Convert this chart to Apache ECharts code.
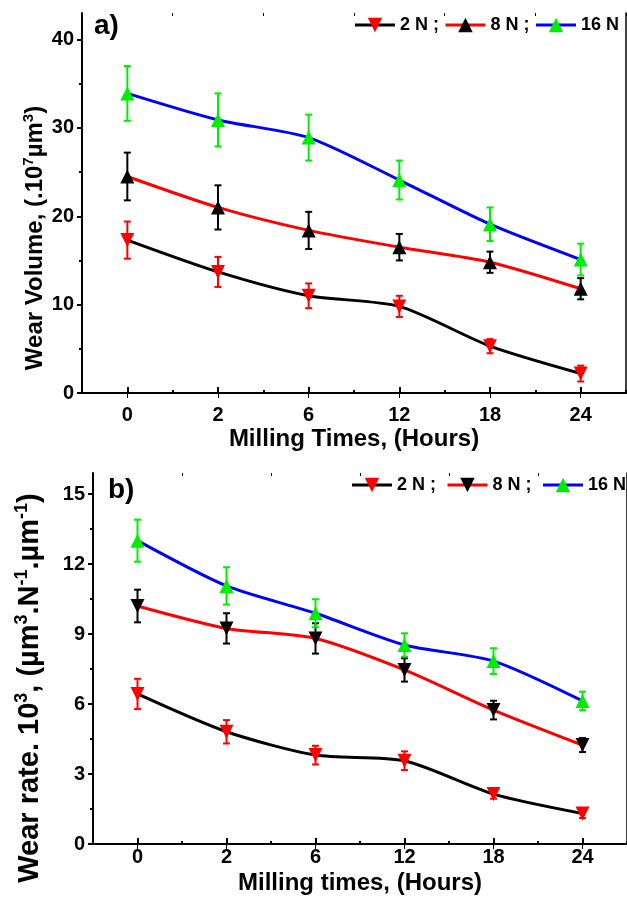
<!DOCTYPE html>
<html>
<head>
<meta charset="utf-8">
<script src="https://cdn.jsdelivr.net/npm/echarts@6/dist/echarts.min.js"></script>
<style>
html,body{margin:0;padding:0;background:#fff;}
#main{width:627px;height:897px;}
</style>
</head>
<body>
<div id="main"></div>
<script>
// ---- data ----
const categories = ['0', '2', '6', '12', '18', '24'];

// panel a: wear volume (x10^7 um^3)
const volume2N = [17.3, 13.7, 11.0, 9.8, 5.3, 2.2];
const volume2NErr = [2.1, 1.7, 1.4, 1.2, 0.8, 0.9];
const volume8N = [24.5, 21.0, 18.4, 16.5, 14.8, 11.8];
const volume8NErr = [2.7, 2.5, 2.1, 1.5, 1.2, 1.2];
const volume16N = [33.9, 30.9, 28.9, 24.1, 19.1, 15.1];
const volume16NErr = [3.1, 3.0, 2.6, 2.2, 1.9, 1.8];

// panel b: wear rate x10^3
const rate2N = [6.43, 4.81, 3.81, 3.57, 2.14, 1.31];
const rate2NErr = [0.65, 0.5, 0.4, 0.4, 0.2, 0.2];
const rate8N = [10.2, 9.24, 8.81, 7.46, 5.74, 4.24];
const rate8NErr = [0.7, 0.65, 0.65, 0.5, 0.4, 0.3];
const rate16N = [13.0, 11.06, 9.89, 8.53, 7.84, 6.13];
const rate16NErr = [0.9, 0.8, 0.6, 0.5, 0.55, 0.4];

const yTicksA = [0, 10, 20, 30, 40];
const yMinorA = [5, 15, 25, 35];
const yTicksB = [0, 3, 6, 9, 12, 15];
const yMinorB = [1.5, 4.5, 7.5, 10.5, 13.5];

const legendNamesA = ['2 N ;', '8 N ;', '16 N'];
const legendNamesB = ['2 N ; ', '8 N ; ', '16 N '];

// ---- helpers ----
const FONT = 'Liberation Sans, Arial, sans-serif';
const labelStyle = {color: '#000', fontWeight: 'bold', fontSize: 20, fontFamily: FONT};

function errData(vals, errs) {
  return vals.map((v, i) => [i, v - errs[i], v + errs[i]]);
}

function errSeries(vals, errs, color, xi, yi) {
  return {
    type: 'custom',
    xAxisIndex: xi, yAxisIndex: yi,
    data: errData(vals, errs),
    z: 1,
    silent: true,
    renderItem: function (params, api) {
      const x = api.value(0);
      const top = api.coord([x, api.value(2)]);
      const bot = api.coord([x, api.value(1)]);
      const w = 3.5;
      const st = {stroke: color, lineWidth: 2};
      return {
        type: 'group',
        children: [
          {type: 'line', shape: {x1: top[0], y1: top[1], x2: bot[0], y2: bot[1]}, style: st},
          {type: 'line', shape: {x1: top[0] - w, y1: top[1], x2: top[0] + w, y2: top[1]}, style: st},
          {type: 'line', shape: {x1: bot[0] - w, y1: bot[1], x2: bot[0] + w, y2: bot[1]}, style: st}
        ]
      };
    }
  };
}

function lineSeries(name, vals, lineColor, markColor, down, xi, yi) {
  return {
    type: 'line',
    name: name,
    xAxisIndex: xi, yAxisIndex: yi,
    data: vals,
    smooth: 0.25,
    symbol: 'triangle',
    symbolRotate: down ? 180 : 0,
    symbolSize: 14,
    showAllSymbol: true,
    z: 3,
    lineStyle: {color: lineColor, width: 3},
    itemStyle: {color: markColor, opacity: 1},
    emphasis: {disabled: true}
  };
}

function xAxes(gridIndex, labelMargin, nameGap, name) {
  return [
    {
      type: 'category', gridIndex: gridIndex, data: categories, position: 'bottom', boundaryGap: true,
      axisLine: {show: true, lineStyle: {color: '#000', width: 2}},
      axisTick: {show: true, alignWithLabel: true, inside: true, length: 6, lineStyle: {color: '#000', width: 2}},
      axisLabel: Object.assign({margin: labelMargin, interval: 0}, labelStyle),
      name: name, nameLocation: 'middle', nameGap: nameGap,
      nameTextStyle: {color: '#000', fontWeight: 'bold', fontSize: 24, fontFamily: FONT}
    },
    {
      type: 'category', gridIndex: gridIndex, data: categories, position: 'bottom', boundaryGap: true,
      axisLine: {show: false},
      axisTick: {show: true, inside: true, length: 3, interval: 0, lineStyle: {color: '#000', width: 2}},
      axisLabel: {show: false}
    },
    {
      type: 'category', gridIndex: gridIndex, data: categories, position: 'top', boundaryGap: true,
      axisLine: {show: true, lineStyle: {color: '#000', width: 1.5}},
      axisTick: {show: true, alignWithLabel: true, inside: true, length: 5, lineStyle: {color: '#000', width: 1}},
      axisLabel: {show: false}
    },
    {
      type: 'category', gridIndex: gridIndex, data: categories, position: 'top', boundaryGap: true,
      axisLine: {show: false},
      axisTick: {show: true, inside: true, length: 3, interval: 0, lineStyle: {color: '#000', width: 1}},
      axisLabel: {show: false}
    }
  ];
}

function yAxes(gridIndex, max, majors, minors) {
  return [
    {
      type: 'value', gridIndex: gridIndex, position: 'left', min: 0, max: max,
      splitLine: {show: false},
      axisLine: {show: true, lineStyle: {color: '#000', width: 2}},
      axisTick: {show: true, inside: false, length: 5, customValues: majors, lineStyle: {color: '#000', width: 2}},
      axisLabel: Object.assign({margin: 8, customValues: majors}, labelStyle)
    },
    {
      type: 'value', gridIndex: gridIndex, position: 'left', min: 0, max: max,
      splitLine: {show: false},
      axisLine: {show: false},
      axisTick: {show: true, inside: false, length: 3, customValues: minors, lineStyle: {color: '#000', width: 2}},
      axisLabel: {show: false}
    },
    {
      type: 'value', gridIndex: gridIndex, position: 'right', min: 0, max: max,
      splitLine: {show: false},
      axisLine: {show: true, lineStyle: {color: '#000', width: 1.5}},
      axisTick: {show: false},
      axisLabel: {show: false}
    }
  ];
}

function supRich(size) {
  return {sup: {fontSize: Math.round(size * 0.62), fontWeight: 'bold', fontFamily: FONT, fill: '#000',
                padding: [0, 0, Math.round(size * 0.5), 0]}};
}

const legendText = {color: '#000', fontWeight: 'bold', fontSize: 18, fontFamily: FONT};

const option = {
  backgroundColor: '#fff',
  animation: false,
  grid: [
    {left: 82, right: 1, top: 13, bottom: 504, containLabel: false},
    {left: 93, right: -10, top: 473, bottom: 53, containLabel: false}
  ],
  legend: [
    {data: legendNamesA, right: 8, top: 16, itemWidth: 40, itemHeight: 18, itemGap: 5,
     textStyle: legendText, selectedMode: false, padding: 0, lineStyle: {width: 3}},
    {data: legendNamesB, right: -4, top: 476, itemWidth: 40, itemHeight: 18, itemGap: 5,
     textStyle: legendText, selectedMode: false, padding: 0, lineStyle: {width: 3}}
  ],
  xAxis: [].concat(
    xAxes(0, 12, 34, 'Milling Times, (Hours)'),
    xAxes(1, 3, 27, 'Milling times, (Hours)')
  ),
  yAxis: [].concat(
    yAxes(0, 43, yTicksA, yMinorA),
    yAxes(1, 15.9, yTicksB, yMinorB)
  ),
  graphic: [
    {type: 'text', left: 94, top: 12, style: {text: 'a)', font: 'bold 28px ' + FONT, fill: '#000'}},
    {type: 'text', left: 108, top: 476, style: {text: 'b)', font: 'bold 28px ' + FONT, fill: '#000'}},
    {type: 'text', x: 35, y: 238, rotation: Math.PI / 2,
     style: {text: 'Wear Volume, (.10{sup|7}µm{sup|3})', fontSize: 24, fontWeight: 'bold', fontFamily: FONT,
             fill: '#000', align: 'center', verticalAlign: 'middle', rich: supRich(24)}},
    {type: 'text', x: 30, y: 688, rotation: Math.PI / 2,
     style: {text: 'Wear rate. 10{sup|3}, (µm{sup|3}.N{sup|-1}.µm{sup|-1})', fontSize: 29, fontWeight: 'bold', fontFamily: FONT,
             fill: '#000', align: 'center', verticalAlign: 'middle', rich: supRich(29)}}
  ],
  series: [
    errSeries(volume2N, volume2NErr, '#ff0000', 0, 0),
    errSeries(volume8N, volume8NErr, '#000000', 0, 0),
    errSeries(volume16N, volume16NErr, '#00ee00', 0, 0),
    lineSeries(legendNamesA[0], volume2N, '#000000', '#ff0000', true, 0, 0),
    lineSeries(legendNamesA[1], volume8N, '#ff0000', '#000000', false, 0, 0),
    lineSeries(legendNamesA[2], volume16N, '#0000ff', '#00ee00', false, 0, 0),

    errSeries(rate2N, rate2NErr, '#ff0000', 4, 3),
    errSeries(rate8N, rate8NErr, '#000000', 4, 3),
    errSeries(rate16N, rate16NErr, '#00ee00', 4, 3),
    lineSeries(legendNamesB[0], rate2N, '#000000', '#ff0000', true, 4, 3),
    lineSeries(legendNamesB[1], rate8N, '#ff0000', '#000000', true, 4, 3),
    lineSeries(legendNamesB[2], rate16N, '#0000ff', '#00ee00', false, 4, 3)
  ]
};

const chart = echarts.init(document.getElementById('main'), null, {renderer: 'canvas'});
chart.setOption(option);
</script>
</body>
</html>
